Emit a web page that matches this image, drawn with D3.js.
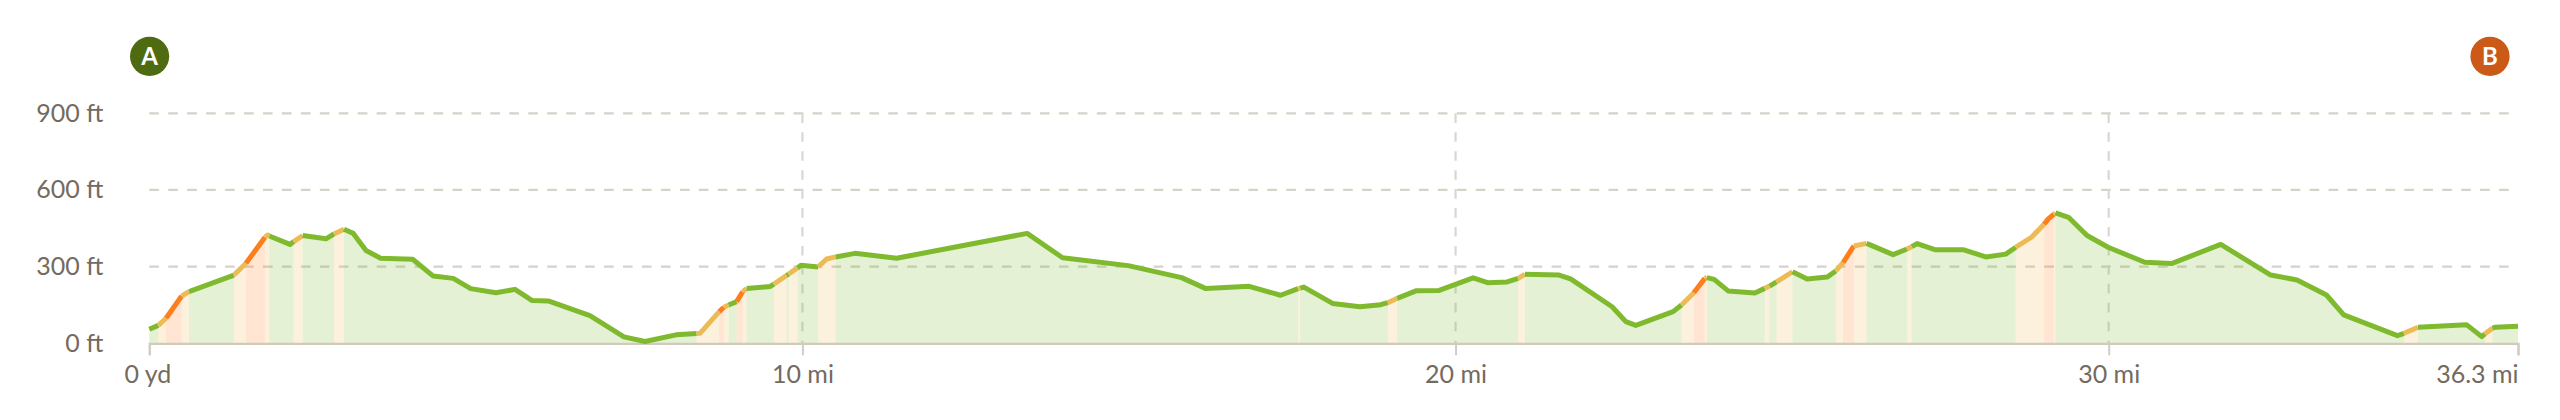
<!DOCTYPE html>
<html>
<head>
<meta charset="utf-8">
<style>
html,body{margin:0;padding:0;background:#fff}
svg{display:block}
text{font-family:Lato,"Noto Sans",sans-serif}
</style>
<script src="https://cdnjs.cloudflare.com/ajax/libs/d3/7.8.5/d3.min.js"></script>
</head>
<body>
<svg id="c" width="2560" height="420"></svg>
<script>
const miles=[0,0.138,0.256,0.496,0.608,1.297,1.480,1.771,1.813,1.837,2.154,2.211,2.348,2.705,2.828,2.981,3.123,3.318,3.542,4.032,4.348,4.654,4.920,5.308,5.599,5.863,6.108,6.747,7.267,7.589,8.063,8.380,8.431,8.726,8.798,8.870,8.993,9.084,9.146,9.502,9.564,9.758,9.789,9.926,9.977,10.242,10.370,10.508,10.804,11.442,13.441,13.983,14.988,15.805,16.177,16.840,17.321,17.590,17.621,17.677,18.117,18.535,18.852,18.963,19.106,19.403,19.749,20.269,20.490,20.790,20.958,21.061,21.586,21.761,22.397,22.607,22.760,23.331,23.460,23.648,23.816,23.847,23.959,24.173,24.582,24.735,24.807,24.914,25.159,25.383,25.689,25.822,25.934,26.098,26.292,26.699,26.913,26.985,27.067,27.349,27.782,28.118,28.425,28.578,28.818,29.011,29.072,29.159,29.185,29.385,29.669,29.991,30.553,30.962,31.716,32.481,32.884,33.334,33.599,34.421,34.522,34.736,35.478,35.712,35.762,35.875,35.911,36.267];
const feet=[55,70,98,185,202,267,313,415,424,420,387,398,422,409,428,446,430,363,333,329,263,254,214,198,211,167,166,108,25,7,33,38,39,124,141,150,163,202,214,222,232,266,271,295,305,299,330,338,352,333,430,335,304,257,214,223,188,214,216,220,156,143,151,159,176,206,207,256,237,240,254,270,267,252,143,85,70,124,150,198,254,257,250,205,197,215,224,240,280,252,259,283,316,381,391,347,369,378,390,366,366,338,349,376,415,466,486,505,510,493,422,376,317,312,387,267,248,189,111,30,39,63,73,26,37,59,63,67];
// grade class of the segment that starts at each point: 0 easy, 1 moderate, 2 steep
const grades=[0,1,2,1,0,1,2,1,1,0,0,1,0,0,1,0,0,0,0,0,0,0,0,0,0,0,0,0,0,0,0,1,1,2,1,0,2,1,0,0,1,0,1,0,0,1,1,0,0,0,0,0,0,0,0,0,0,1,0,0,0,0,0,1,0,0,0,0,0,0,1,0,0,0,0,0,0,0,1,2,1,0,0,0,0,1,0,1,0,0,0,1,2,1,0,0,1,0,0,0,0,0,0,1,1,2,2,1,0,0,0,0,0,0,0,0,0,0,0,0,1,0,0,0,1,0,0,0];
const gradeColors=["#7FB92E","#EDBB56","#FD7E1C"];
const yTicks=[0,300,600,900];
const yLabels=["0 ft","300 ft","600 ft","900 ft"];
const xTicks=[0,10,20,30,36.267];
const xLabels=["0 yd","10 mi","20 mi","30 mi","36.3 mi"];
const markers=["A","B"];
const markerColors=["#4F6B12","#CB5A18"];

const W=2560,H=420;
const x=d3.scaleLinear().domain([0,36.267]).range([149.3,2518]);
const y=d3.scaleLinear().domain([0,900]).range([343.3,113.3]);
const svg=d3.select("#c");
const pts=miles.map((m,i)=>({m,f:feet[i],g:grades[i]}));

// grid
const gridEnd=2510;
svg.append("g").selectAll("line").data(yTicks.slice(1)).join("line")
  .attr("x1",x(0)).attr("x2",gridEnd).attr("y1",d=>y(d)).attr("y2",d=>y(d))
  .attr("stroke","#D6D2C8").attr("stroke-width",2.2).attr("stroke-dasharray","9.6 9.35");
svg.append("g").selectAll("line").data(xTicks.slice(1,4)).join("line")
  .attr("x1",d=>x(d)).attr("x2",d=>x(d)).attr("y1",y(900)).attr("y2",y(0))
  .attr("stroke","#D9D7D3").attr("stroke-width",2.2).attr("stroke-dasharray","9.6 9.35");

// runs of equal grade
const runs=[];
for(let i=0;i<pts.length-1;i++){
  const last=runs[runs.length-1];
  if(last&&last.g===pts[i].g) last.p.push(pts[i+1]);
  else runs.push({g:pts[i].g,p:[pts[i],pts[i+1]]});
}
const area=d3.area().x(d=>x(d.m)).y0(y(0)).y1(d=>y(d.f));
const line=d3.line().x(d=>x(d.m)).y(d=>y(d.f));
svg.append("g").selectAll("path").data(runs).join("path")
  .attr("d",d=>area(d.p)).attr("fill",d=>gradeColors[d.g]).attr("fill-opacity",.2);

// axes
const xAxis=d3.axisBottom(x).tickValues(xTicks).tickFormat((d,i)=>xLabels[i]).tickSize(12).tickPadding(10);
const gx=svg.append("g").attr("transform",`translate(0,${y(0)})`).call(xAxis);
gx.select(".domain").attr("stroke","#CFCABC").attr("stroke-width",2.2);
gx.selectAll("line").attr("stroke","#D0CDC4").attr("stroke-width",2);
gx.selectAll("text").attr("fill","#746A5F").attr("font-size",25).style("font-family","Lato")
  .attr("text-anchor",(d,i)=>i===4?"end":"middle").attr("dx",(d,i)=>i===0?-2:0);
const yAxis=d3.axisLeft(y).tickValues(yTicks).tickFormat((d,i)=>yLabels[i]).tickSize(0).tickPadding(46);
const gy=svg.append("g").attr("transform",`translate(${x(0)},0)`).call(yAxis);
gy.select(".domain").remove();
gy.selectAll("text").attr("fill","#746A5F").attr("font-size",25).style("font-family","Lato");

// line
svg.append("g").selectAll("path").data(runs).join("path")
  .attr("d",d=>line(d.p)).attr("fill","none").attr("stroke",d=>gradeColors[d.g])
  .attr("stroke-width",5).attr("stroke-linejoin","round");

// markers
const mx=d3.scalePoint().domain(markers).range([149.6,2490]);
const m=svg.append("g").selectAll("g").data(markers).join("g")
  .attr("transform",d=>`translate(${mx(d)},56.3)`);
m.append("circle").attr("r",19.6).attr("fill",(d,i)=>markerColors[i]);
m.append("text").text(d=>d).attr("text-anchor","middle").attr("y",8.6)
  .attr("fill","#fff").attr("font-size",24).attr("font-weight",700);
</script>
</body>
</html>
